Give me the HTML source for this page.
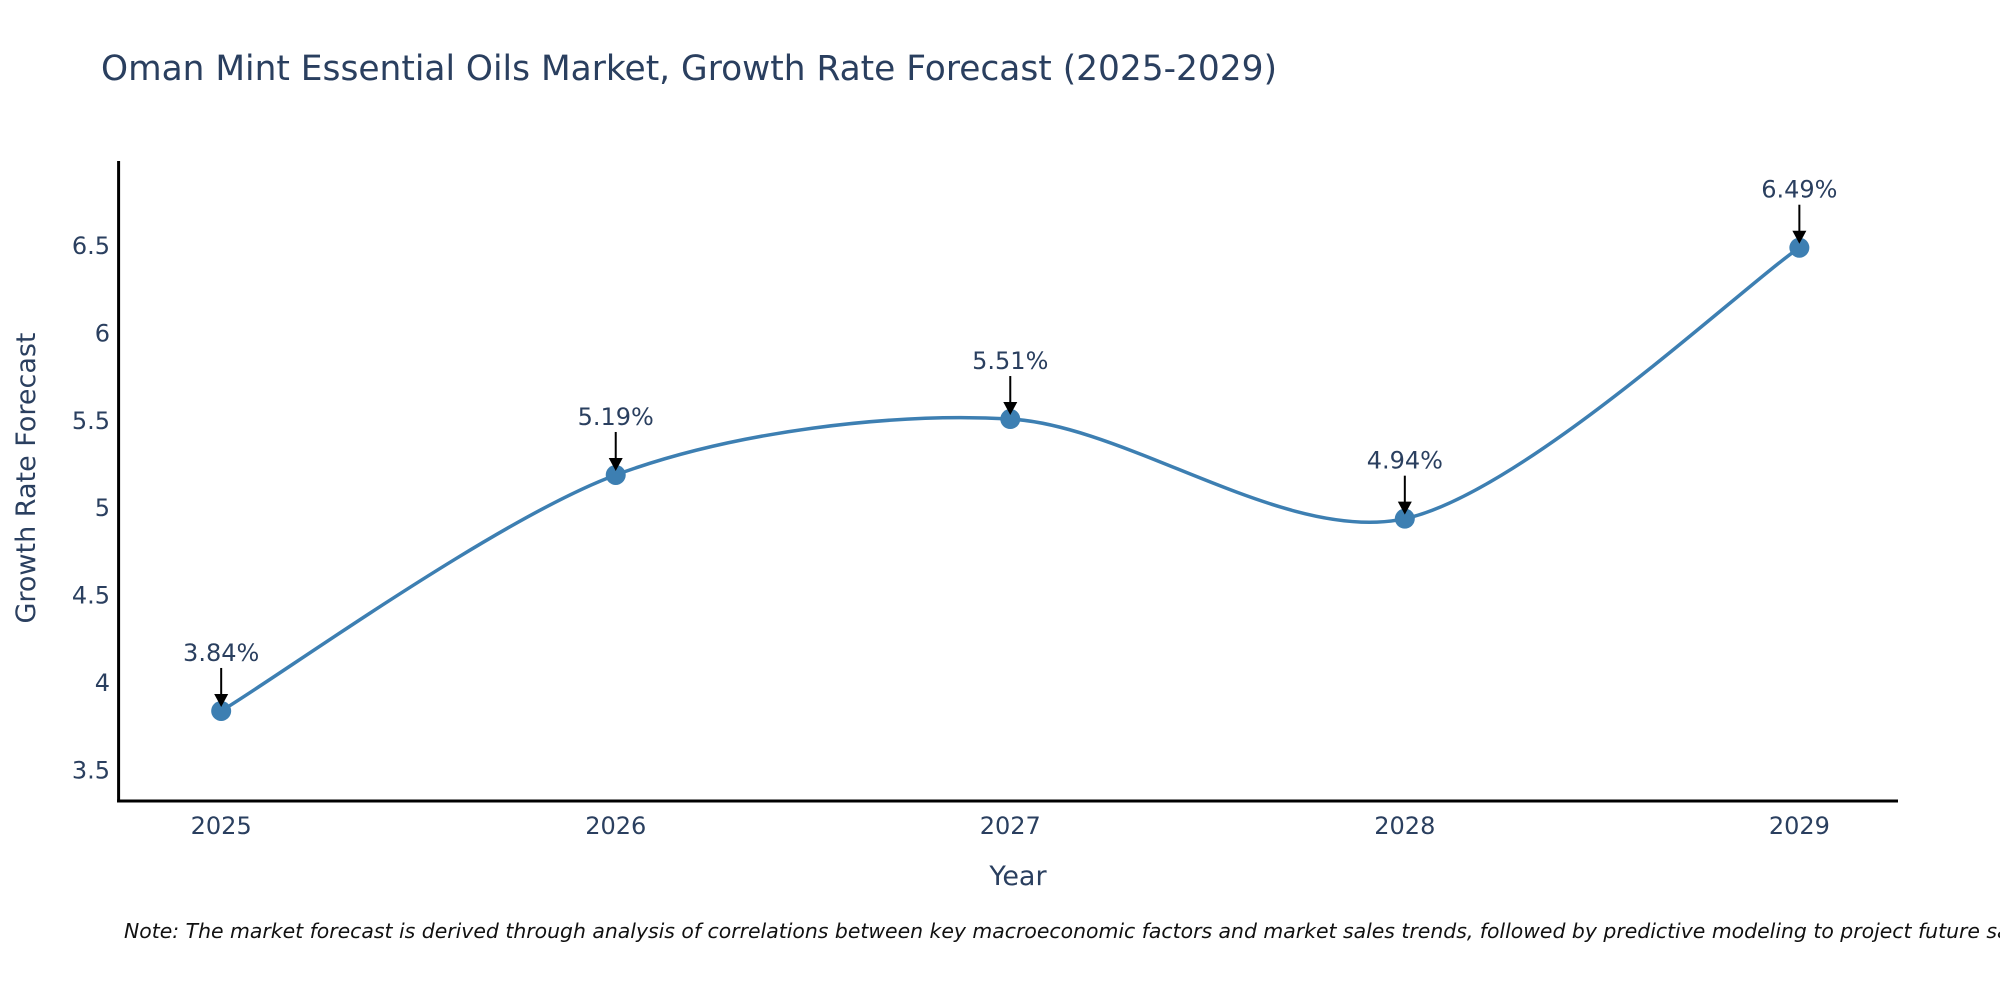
<!DOCTYPE html>
<html><head><meta charset="utf-8"><style>
html,body{margin:0;padding:0;background:#fff;width:2000px;height:1000px;overflow:hidden}
text{font-family:"DejaVu Sans","Liberation Sans",sans-serif;fill:#2a3f5f}
</style></head><body>
<svg id="chart" width="2000" height="1000" xmlns="http://www.w3.org/2000/svg">
<text x="101" y="80" font-size="34.4">Oman Mint Essential Oils Market, Growth Rate Forecast (2025-2029)</text>
<g id="plot"></g>
<text x="1018" y="885" font-size="27" text-anchor="middle">Year</text>
<text transform="translate(35,478) rotate(-90)" font-size="27" text-anchor="middle">Growth Rate Forecast</text>
<text x="124" y="938" font-size="20.4" font-style="italic" style="fill:#111">Note: The market forecast is derived through analysis of correlations between key macroeconomic factors and market sales trends, followed by predictive modeling to project future sales.</text>
</svg>
<script>
const years = [2025, 2026, 2027, 2028, 2029];
const growth = [3.84, 5.19, 5.51, 4.94, 6.49];
const yTicks = [3.5, 4, 4.5, 5, 5.5, 6, 6.5];
const yTickLabels = ["3.5", "4", "4.5", "5", "5.5", "6", "6.5"];

const L=118.6,R=1898,T=161,B=801;
const xMin=2024.74,xMax=2029.25,yMin=3.325,yMax=6.986;
const xs=v=>L+(v-xMin)/(xMax-xMin)*(R-L);
const ys=v=>B-(v-yMin)/(yMax-yMin)*(B-T);
const NS="http://www.w3.org/2000/svg";
const g=document.getElementById('plot');
function mk(tag,attrs,parent){const e=document.createElementNS(NS,tag);for(const k in attrs)e.setAttribute(k,attrs[k]);(parent||g).appendChild(e);return e;}

yTicks.forEach((t,i)=>{
  const e=mk('text',{x:110,y:ys(t)+8,'font-size':24,'text-anchor':'end'});
  e.textContent=yTickLabels[i];
  
  
});
years.forEach(yr=>{
  const e=mk('text',{x:xs(yr),y:834,'font-size':24,'text-anchor':'middle'});
  e.textContent=String(yr);
  
  
});
const ya=mk('line',{x1:L,y1:T,x2:L,y2:B+1.5,stroke:'#000','stroke-width':3});


const xa=mk('line',{x1:L-1.5,y1:B,x2:R,y2:B,stroke:'#000','stroke-width':3});



const P=years.map((yr,i)=>[xs(yr),ys(growth[i])]);
let d=`M${P[0][0]},${P[0][1]}`;
const k=0.15;
for(let i=0;i<P.length-1;i++){
  const p0=P[Math.max(0,i-1)],p1=P[i],p2=P[i+1],p3=P[Math.min(P.length-1,i+2)];
  const c1=[p1[0]+(p2[0]-p0[0])*k,p1[1]+(p2[1]-p0[1])*k];
  const c2=[p2[0]-(p3[0]-p1[0])*k,p2[1]-(p3[1]-p1[1])*k];
  d+=` C${c1[0]},${c1[1]} ${c2[0]},${c2[1]} ${p2[0]},${p2[1]}`;
}
const line=mk('path',{d:d,fill:'none',stroke:'#3d7fb2','stroke-width':3.5});



P.forEach((p,i)=>{
  const c=mk('circle',{cx:p[0],cy:p[1],r:10,fill:'#3d7fb2'});
  
  
  const a=mk('line',{x1:p[0],y1:p[1]-43,x2:p[0],y2:p[1]-14,stroke:'#000','stroke-width':2});
  
  
  const h=mk('polygon',{points:`${p[0]-7},${p[1]-17} ${p[0]+7},${p[1]-17} ${p[0]},${p[1]-4}`,fill:'#000'});
  
  
  const t=mk('text',{x:p[0],y:p[1]-50,'font-size':24,'text-anchor':'middle'});
  t.textContent=growth[i].toFixed(2)+'%';
  
  
});
</script>
</body></html>
